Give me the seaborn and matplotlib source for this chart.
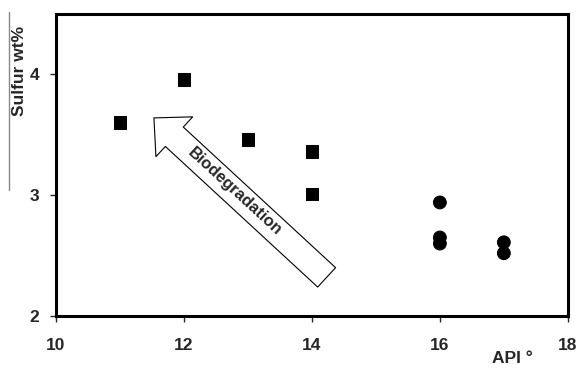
import pandas as pd
import matplotlib
matplotlib.use("Agg")
import matplotlib.pyplot as plt
from matplotlib.lines import Line2D
import seaborn as sns

sns.set_style("ticks")
plt.rcParams['font.family'] = ['Liberation Sans', 'DejaVu Sans']
plt.rcParams['font.weight'] = 'bold'

## Data ##
api_heavy = [11, 12, 13, 14, 14]
sulfur_heavy = [3.60, 3.96, 3.46, 3.36, 3.01]
api_light = [16, 16, 16, 17, 17]
sulfur_light = [2.94, 2.65, 2.60, 2.61, 2.52]

x_ticks = [10, 12, 14, 16, 18]
y_ticks = [2, 3, 4]

df = pd.DataFrame({
    'API': api_heavy + api_light,
    'Sulfur': sulfur_heavy + sulfur_light,
    'Group': ['heavy'] * len(api_heavy) + ['light'] * len(api_light),
})

fig = plt.figure(figsize=(5.8, 3.69), dpi=100)
ax = fig.add_axes([0.0966, 0.1436, 0.8824, 0.8184])

sns.scatterplot(data=df, x='API', y='Sulfur', style='Group',
                markers={'heavy': 's', 'light': 'o'}, color='black',
                edgecolor='black', s=85, legend=False, ax=ax)

ax.set_xlim(10, 18)
ax.set_ylim(2, 4.5)
ax.set_xticks(x_ticks)
ax.set_yticks(y_ticks)
ax.tick_params(axis='both', labelsize=12.5, length=4, width=1)
ax.tick_params(axis='x', pad=12)
ax.tick_params(axis='y', pad=8)
for lab in ax.get_xticklabels() + ax.get_yticklabels():
    lab.set_fontweight('bold')
for sp in ax.spines.values():
    sp.set_linewidth(2.2)
    sp.set_color('black')

ax.set_xlabel('')
ax.set_ylabel('')
fig.text(0.033, 0.93, 'Sulfur wt%', rotation=90, ha='center', va='top',
         fontsize=12.5, fontweight='bold')
fig.text(0.883, 0.008, 'API \u00b0', ha='center', va='bottom',
         fontsize=12.5, fontweight='bold')
fig.add_artist(Line2D([0.016, 0.016], [0.485, 0.968], color='#888888', lw=1))

# biodegradation arrow
ax.annotate('', xy=(11.53, 3.64), xytext=(14.23, 2.32),
            arrowprops=dict(arrowstyle='simple,head_width=39,head_length=20,tail_width=19',
                            mutation_scale=1, facecolor='white', edgecolor='black',
                            lw=0.8, shrinkA=0, shrinkB=0))
ax.text(12.80, 3.03, 'Biodegradation', rotation=-42.6, ha='center', va='center',
        fontsize=12, fontweight='bold', rotation_mode='anchor')

fig.savefig('out.png', dpi=100)
